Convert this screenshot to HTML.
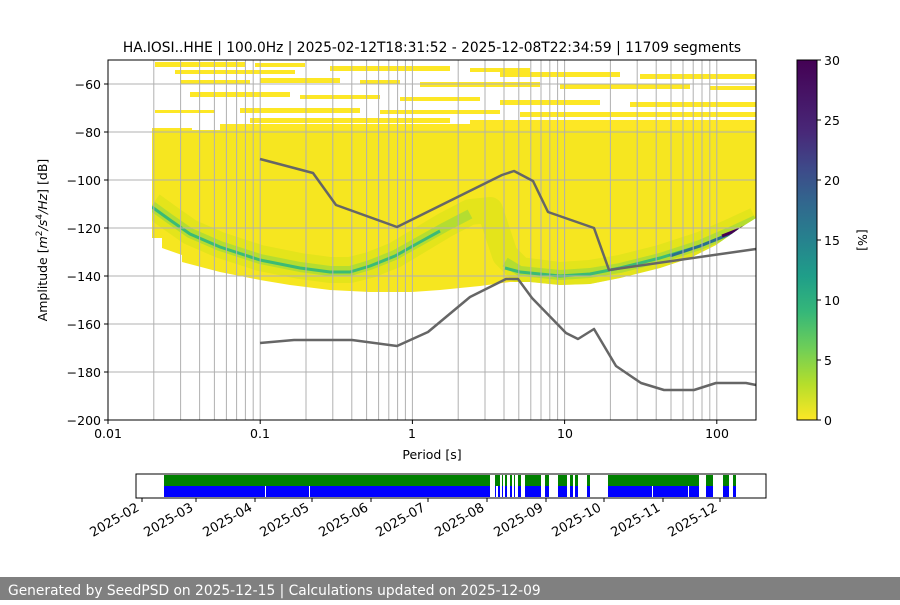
<!DOCTYPE html>
<html><head><meta charset="utf-8"><style>
body{margin:0;width:900px;height:600px;background:#fff;overflow:hidden;font-family:"Liberation Sans","DejaVu Sans",sans-serif}
</style></head><body>
<svg width="900" height="600" xmlns="http://www.w3.org/2000/svg" font-family="DejaVu Sans, Liberation Sans, sans-serif">
<defs>
<linearGradient id="cb" x1="0" y1="1" x2="0" y2="0">
<stop offset="0" stop-color="#fde725"/><stop offset="0.1" stop-color="#b5de2b"/><stop offset="0.2" stop-color="#6ece58"/><stop offset="0.3" stop-color="#35b779"/><stop offset="0.4" stop-color="#1f9e89"/><stop offset="0.5" stop-color="#26828e"/><stop offset="0.6" stop-color="#31688e"/><stop offset="0.7" stop-color="#3e4989"/><stop offset="0.8" stop-color="#482878"/><stop offset="1" stop-color="#440154"/>
</linearGradient>
<clipPath id="ax"><rect x="108" y="60" width="648" height="360"/></clipPath>
<clipPath id="body"><path d="M152,130 L756,130 L756,218 L740,228 L716,245 L690,258 L660,268 L620,278 L590,284 L560,285 L530,282 L510,282 L480,286 L440,290 L412,292 L370,292 L330,290 L290,285 L260,280 L220,272 L182,262 L182,255 L162,248 L162,238 L152,238 Z"/></clipPath>
</defs>
<text x="432" y="52" font-size="13.8" text-anchor="middle">HA.IOSI..HHE | 100.0Hz | 2025-02-12T18:31:52 - 2025-12-08T22:34:59 | 11709 segments</text>
<g clip-path="url(#ax)">
<g fill="#fde725">
<rect x="155" y="62" width="90" height="5"/><rect x="255" y="63" width="50" height="4"/><rect x="175" y="70" width="120" height="4"/><rect x="330" y="66" width="120" height="5"/><rect x="470" y="68" width="60" height="4"/><rect x="500" y="72" width="120" height="5"/><rect x="640" y="74" width="116" height="5"/>
<rect x="180" y="80" width="70" height="4"/><rect x="260" y="78" width="80" height="5"/><rect x="360" y="80" width="40" height="4"/><rect x="420" y="82" width="120" height="5"/><rect x="560" y="84" width="130" height="5"/><rect x="710" y="86" width="46" height="4"/>
<rect x="190" y="92" width="100" height="5"/><rect x="300" y="95" width="80" height="4"/><rect x="400" y="97" width="80" height="4"/><rect x="500" y="100" width="100" height="5"/><rect x="630" y="102" width="126" height="5"/>
<rect x="155" y="110" width="60" height="3"/><rect x="240" y="108" width="120" height="5"/><rect x="380" y="110" width="120" height="4"/><rect x="520" y="112" width="236" height="5"/>
<rect x="250" y="118" width="200" height="5"/><rect x="470" y="120" width="286" height="5"/><rect x="152" y="128" width="40" height="4"/><rect x="220" y="124" width="536" height="8"/>
</g>
<path fill="#f6e620" d="M152,130 L756,130 L756,218 L740,228 L716,245 L690,258 L660,268 L620,278 L590,284 L560,285 L530,282 L510,282 L480,286 L440,290 L412,292 L370,292 L330,290 L290,285 L260,280 L220,272 L182,262 L182,255 L162,248 L162,238 L152,238 Z"/>
<g clip-path="url(#body)" fill="none" stroke-linejoin="round">
<path stroke="#d8e219" stroke-width="26" opacity="0.6" d="M152,205 L170,218 L190,232 L220,245 L260,258 L300,266 L330,270 L350,270 L370,265 L395,255 L420,240 L445,225 L470,212 L490,210 L505,255 L520,270 L560,275 L590,273 L620,268 L660,258 L700,245 L730,232 L756,220"/>
<path stroke="#a0da39" stroke-width="10" opacity="0.7" d="M152,206 L170,219 L190,233 L220,246 L260,259 L300,267 L330,271 L350,271 L370,265 L395,255 L420,241 L445,227 L470,214 M505,262 L520,271 L560,275 L590,273 L620,268 L660,258 L700,245 L730,232 L756,220"/>
<path stroke="#3bbb75" stroke-width="3" d="M152,207 L170,220 L190,234 L220,247 L260,260 L300,268 L330,272 L350,272 L370,266 L395,256 L420,242 L440,231 M505,268 L520,272 L560,276 L590,274 L620,268 L660,258 L700,246 L730,234 L756,222"/>
<path stroke="#2c6f8e" stroke-width="3" d="M670,256 L700,246 L730,234 L756,222"/>
<path stroke="#440154" stroke-width="3" d="M722,236 L740,229 L756,222"/>
</g>
</g>
<g stroke="#b0b0b0" stroke-width="1">
<line x1="153.8" y1="60" x2="153.8" y2="420"/><line x1="180.6" y1="60" x2="180.6" y2="420"/><line x1="199.6" y1="60" x2="199.6" y2="420"/><line x1="214.4" y1="60" x2="214.4" y2="420"/><line x1="226.4" y1="60" x2="226.4" y2="420"/><line x1="236.6" y1="60" x2="236.6" y2="420"/><line x1="245.4" y1="60" x2="245.4" y2="420"/><line x1="253.2" y1="60" x2="253.2" y2="420"/><line x1="260.2" y1="60" x2="260.2" y2="420"/>
<line x1="306" y1="60" x2="306" y2="420"/><line x1="332.8" y1="60" x2="332.8" y2="420"/><line x1="351.8" y1="60" x2="351.8" y2="420"/><line x1="366.6" y1="60" x2="366.6" y2="420"/><line x1="378.6" y1="60" x2="378.6" y2="420"/><line x1="388.8" y1="60" x2="388.8" y2="420"/><line x1="397.6" y1="60" x2="397.6" y2="420"/><line x1="405.4" y1="60" x2="405.4" y2="420"/><line x1="412.4" y1="60" x2="412.4" y2="420"/>
<line x1="458.2" y1="60" x2="458.2" y2="420"/><line x1="485" y1="60" x2="485" y2="420"/><line x1="504" y1="60" x2="504" y2="420"/><line x1="518.8" y1="60" x2="518.8" y2="420"/><line x1="530.8" y1="60" x2="530.8" y2="420"/><line x1="541" y1="60" x2="541" y2="420"/><line x1="549.8" y1="60" x2="549.8" y2="420"/><line x1="557.6" y1="60" x2="557.6" y2="420"/><line x1="564.6" y1="60" x2="564.6" y2="420"/>
<line x1="610.4" y1="60" x2="610.4" y2="420"/><line x1="637.2" y1="60" x2="637.2" y2="420"/><line x1="656.2" y1="60" x2="656.2" y2="420"/><line x1="671" y1="60" x2="671" y2="420"/><line x1="683" y1="60" x2="683" y2="420"/><line x1="693.2" y1="60" x2="693.2" y2="420"/><line x1="702" y1="60" x2="702" y2="420"/><line x1="709.8" y1="60" x2="709.8" y2="420"/><line x1="716.8" y1="60" x2="716.8" y2="420"/>
<line x1="108" y1="84" x2="756" y2="84"/><line x1="108" y1="132" x2="756" y2="132"/><line x1="108" y1="180" x2="756" y2="180"/><line x1="108" y1="228" x2="756" y2="228"/><line x1="108" y1="276" x2="756" y2="276"/><line x1="108" y1="324" x2="756" y2="324"/><line x1="108" y1="372" x2="756" y2="372"/>
</g>
<g fill="none" stroke="#666" stroke-width="2.5" stroke-linejoin="round">
<polyline points="260,159 313,173 336,205 397,227 502,175 514,171 533,181 548,212 594,228 609,270 756,249"/>
<polyline points="260,343 294,340 352,340 397,346 428,332 470,297 506,279 518,279 532,298 566,333 578,339 594,329 616,366 641,383 664,390 694,390 716,383 746,383 756,385"/>
</g>
<rect x="108" y="60" width="648" height="360" fill="none" stroke="#000" stroke-width="1"/>
<g stroke="#000">
<line x1="104" y1="84" x2="108" y2="84"/><line x1="104" y1="132" x2="108" y2="132"/><line x1="104" y1="180" x2="108" y2="180"/><line x1="104" y1="228" x2="108" y2="228"/><line x1="104" y1="276" x2="108" y2="276"/><line x1="104" y1="324" x2="108" y2="324"/><line x1="104" y1="372" x2="108" y2="372"/><line x1="104" y1="420" x2="108" y2="420"/>
</g>
<g font-size="12.5" text-anchor="end">
<text x="101" y="89">−60</text><text x="101" y="137">−80</text><text x="101" y="185">−100</text><text x="101" y="233">−120</text><text x="101" y="281">−140</text><text x="101" y="329">−160</text><text x="101" y="377">−180</text><text x="101" y="425">−200</text>
</g>
<g stroke="#000"><line x1="108" y1="420" x2="108" y2="424"/><line x1="260.2" y1="420" x2="260.2" y2="424"/><line x1="412.4" y1="420" x2="412.4" y2="424"/><line x1="564.6" y1="420" x2="564.6" y2="424"/><line x1="716.8" y1="420" x2="716.8" y2="424"/></g>
<g font-size="12.5" text-anchor="middle">
<text x="108" y="438">0.01</text><text x="260" y="438">0.1</text><text x="412" y="438">1</text><text x="565" y="438">10</text><text x="717" y="438">100</text>
<text x="432" y="459">Period [s]</text>
</g>
<text transform="translate(47,240) rotate(-90)" font-size="12.5" text-anchor="middle">Amplitude [<tspan font-style="italic">m</tspan><tspan font-size="9" dy="-5">2</tspan><tspan dy="5" font-style="italic">/s</tspan><tspan font-size="9" dy="-5">4</tspan><tspan dy="5" font-style="italic">/Hz</tspan>] [dB]</text>
<rect x="797" y="60" width="20" height="360" fill="url(#cb)" stroke="#000" stroke-width="1"/>
<g stroke="#000"><line x1="817" y1="60" x2="821" y2="60"/><line x1="817" y1="120" x2="821" y2="120"/><line x1="817" y1="180" x2="821" y2="180"/><line x1="817" y1="240" x2="821" y2="240"/><line x1="817" y1="300" x2="821" y2="300"/><line x1="817" y1="360" x2="821" y2="360"/><line x1="817" y1="420" x2="821" y2="420"/></g>
<g font-size="12.5"><text x="824" y="65">30</text><text x="824" y="125">25</text><text x="824" y="185">20</text><text x="824" y="245">15</text><text x="824" y="305">10</text><text x="824" y="365">5</text><text x="824" y="425">0</text></g>
<text transform="translate(858,240) rotate(90)" font-size="12.5" text-anchor="middle">[%]</text>
<rect x="164" y="475" width="581" height="11" fill="#008000"/>
<rect x="164" y="486" width="581" height="11" fill="#0000ff"/>
<g fill="#fff">
<rect x="265" y="486" width="1" height="11"/><rect x="309" y="486" width="1" height="11"/><rect x="652" y="486" width="1" height="11"/><rect x="688" y="486" width="1" height="11"/>
<rect x="490" y="475" width="5" height="22"/><rect x="496" y="486" width="2" height="11"/><rect x="500" y="475" width="2" height="22"/><rect x="503" y="475" width="2" height="22"/><rect x="507" y="475" width="3" height="22"/><rect x="512" y="475" width="2" height="22"/><rect x="515" y="475" width="3" height="22"/><rect x="521" y="475" width="4" height="22"/>
<rect x="541" y="475" width="4" height="22"/><rect x="549" y="475" width="9" height="22"/><rect x="567" y="475" width="3" height="22"/><rect x="573" y="475" width="2" height="22"/><rect x="578" y="475" width="9" height="22"/><rect x="590" y="475" width="18" height="22"/>
<rect x="699" y="475" width="7" height="22"/><rect x="713" y="475" width="10" height="22"/><rect x="729" y="475" width="4" height="22"/><rect x="736" y="475" width="9" height="22"/>
</g>
<rect x="136" y="474" width="630" height="24" fill="none" stroke="#000" stroke-width="1"/>
<g stroke="#000">
<line x1="142" y1="498" x2="142" y2="502"/><line x1="196" y1="498" x2="196" y2="502"/><line x1="255" y1="498" x2="255" y2="502"/><line x1="312" y1="498" x2="312" y2="502"/><line x1="371" y1="498" x2="371" y2="502"/><line x1="428" y1="498" x2="428" y2="502"/><line x1="487" y1="498" x2="487" y2="502"/><line x1="546" y1="498" x2="546" y2="502"/><line x1="604" y1="498" x2="604" y2="502"/><line x1="663" y1="498" x2="663" y2="502"/><line x1="720" y1="498" x2="720" y2="502"/>
</g>
<g font-size="13" text-anchor="end">
<text transform="translate(140,510) rotate(-30)">2025-02</text>
<text transform="translate(194,510) rotate(-30)">2025-03</text>
<text transform="translate(253,510) rotate(-30)">2025-04</text>
<text transform="translate(310,510) rotate(-30)">2025-05</text>
<text transform="translate(369,510) rotate(-30)">2025-06</text>
<text transform="translate(426,510) rotate(-30)">2025-07</text>
<text transform="translate(485,510) rotate(-30)">2025-08</text>
<text transform="translate(544,510) rotate(-30)">2025-09</text>
<text transform="translate(602,510) rotate(-30)">2025-10</text>
<text transform="translate(661,510) rotate(-30)">2025-11</text>
<text transform="translate(718,510) rotate(-30)">2025-12</text>
</g>
<rect x="0" y="577" width="900" height="23" fill="#808080"/>
<text x="8" y="595" font-size="13.8" fill="#fff">Generated by SeedPSD on 2025-12-15 | Calculations updated on 2025-12-09</text>
</svg>
</body></html>
